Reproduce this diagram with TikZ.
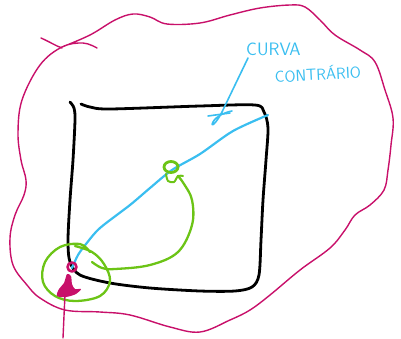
\documentclass[tikz,border=0pt]{standalone}
\usepackage{tikz}
\usetikzlibrary{calc}
\definecolor{inkred}{RGB}{200, 16, 106}
\definecolor{inkblue}{RGB}{58, 190, 240}
\definecolor{inkgreen}{RGB}{108, 196, 22}
\tikzset{
    blob/.style={draw=inkred, line width=1.4pt, line cap=round, line join=round},
    frame/.style={draw=black, line width=2.8pt, line cap=round, line join=round},
    curve/.style={draw=inkblue, line width=2.2pt, line cap=round, line join=round},
    loopline/.style={draw=inkgreen, line width=2.3pt, line cap=round, line join=round},
    note/.style={text=inkblue, font=\sffamily, inner sep=0pt}
}

\begin{document}
\begin{tikzpicture}[x=1pt, y=-1pt]
    \useasboundingbox (0,0) rectangle (401,338);

    % outer region
    \draw[blob] (41,38) .. controls (50,42) and (56,46) .. (62,48);
    \draw[blob] plot[smooth, tension=0.6] coordinates {
        (62,47) (90,35) (115,20) (133,14) (150,17) (167,24) (200,23)
        (230,15) (260,8) (290,5) (305,7) (320,20) (335,35) (360,50) (375,62)
        (385,90) (393,118) (391,145) (388,170) (384,190) (370,205) (355,215)
        (345,230) (330,248) (300,270) (270,295) (250,310) (230,320) (200,332)
        (170,327) (130,315) (100,312) (65,310) (40,298) (27,285) (13,265)
        (10,238) (15,215) (24,195) (26,180) (21,160) (18,133) (22,100)
        (40,65) (62,47) (83,43) (97,48)};

    % square
    \draw[frame] plot[smooth, tension=0.5] coordinates {
        (70,102) (74,108) (75,120) (73,160) (70,200) (68,240) (70,262)
        (80,275) (110,283) (150,288) (200,291) (235,291) (252,287) (259,275)
        (261,240) (263,200) (266,160) (268,128) (264,112) (255,105) (200,106)
        (110,109) (90,107) (81,104)};

    % curve and its label
    \draw[curve] plot[smooth] coordinates {
        (72,268) (78,255) (86,244) (100,228) (130,205) (150,188) (172,170)
        (200,154) (233,131) (268,115)};
    \node[note, font=\sffamily\fontsize{18}{18}\selectfont, anchor=south west] (curva) at (246,56) {CURVA};
    \node[note, font=\sffamily\fontsize{16}{16}\selectfont, anchor=south west, rotate=3] (contrario) at (275,83) {CONTRÁRIO};
    \coordinate (tip) at (222,112);
    \draw[curve, line width=1.6pt] (curva.south west) ++(2,2) -- (tip)
        .. controls (216,124) and (210,128) .. (213,122)
        .. controls (216,116) and (226,112) .. (232,111);
    \draw[curve, line width=1.6pt] (208,116) -- (230,113);

    % green loop
    \draw[loopline] plot[smooth, tension=0.6] coordinates {
        (90,252) (80,244) (60,247) (45,262) (43,282) (55,296) (75,301)
        (100,296) (110,281) (104,264) (92,252) (75,246)};
    \draw[loopline] plot[smooth, tension=0.6] coordinates {
        (92,262) (102,268) (115,269) (150,265) (178,252) (192,225)
        (192,200) (184,184) (178,176)};
    \draw[loopline, line width=2.8pt] (171,167) ellipse [x radius=7, y radius=5.5];
    \draw[loopline, line width=2pt] plot[smooth] coordinates {
        (166,174) (168,181) (174,182) (178,176) (183,176)};

    % start point
    \draw[blob, line width=2.6pt] (72,267) circle [radius=4.5];
    \fill[inkblue] (72,267) circle [radius=1.2];
    \fill[inkred] plot[smooth cycle, tension=0.5] coordinates {
        (67,274) (71,276) (72,284) (75,289) (81,289) (76,294) (66,297)
        (57,296) (59,289) (64,283)};
    \draw[blob] (65,294) -- (63,338);
\end{tikzpicture}
\end{document}
